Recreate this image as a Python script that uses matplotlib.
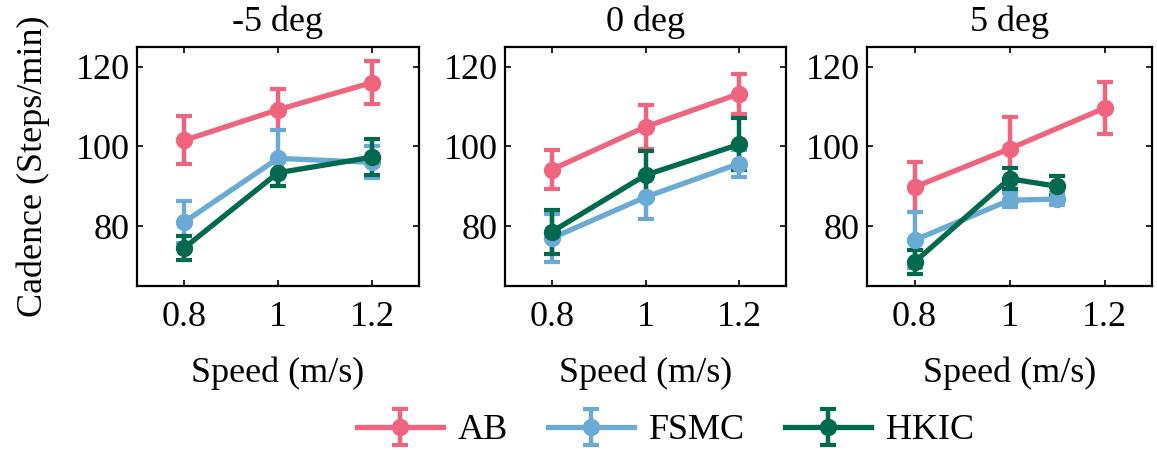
import matplotlib
matplotlib.use("Agg")
import matplotlib.pyplot as plt

plt.rcParams['font.family'] = ['Liberation Serif', 'DejaVu Serif']
plt.rcParams['mathtext.fontset'] = 'stix'

titles = ["-5 deg", "0 deg", "5 deg"]
series = ["AB", "FSMC", "HKIC"]
colors = {"AB": "#EF6580", "FSMC": "#6AAAD5", "HKIC": "#006A4F"}

# x speeds per panel / series
x_full = [0.8, 1.0, 1.2]
x_short = [0.8, 1.0, 1.1]

# -5 deg
m5_AB = [101.5, 109.2, 116.0]
m5_AB_err = [6.0, 5.2, 5.3]
m5_FSMC = [81.0, 97.0, 96.0]
m5_FSMC_err = [5.3, 7.0, 4.0]
m5_HKIC = [74.5, 93.4, 97.3]
m5_HKIC_err = [3.0, 3.4, 4.5]

# 0 deg
z_AB = [94.2, 104.9, 113.2]
z_AB_err = [5.0, 5.5, 5.0]
z_FSMC = [77.0, 87.3, 95.7]
z_FSMC_err = [6.0, 5.5, 3.3]
z_HKIC = [78.6, 92.8, 100.5]
z_HKIC_err = [5.5, 6.0, 6.5]

# 5 deg
p5_AB = [89.8, 99.4, 109.6]
p5_AB_err = [6.2, 8.0, 6.6]
p5_FSMC = [76.5, 86.5, 86.8]
p5_FSMC_err = [7.0, 1.8, 1.5]
p5_HKIC = [71.0, 91.9, 90.0]
p5_HKIC_err = [3.0, 2.7, 2.5]

panels = [
    {"AB": (x_full, m5_AB, m5_AB_err), "FSMC": (x_full, m5_FSMC, m5_FSMC_err), "HKIC": (x_full, m5_HKIC, m5_HKIC_err)},
    {"AB": (x_full, z_AB, z_AB_err), "FSMC": (x_full, z_FSMC, z_FSMC_err), "HKIC": (x_full, z_HKIC, z_HKIC_err)},
    {"AB": (x_full, p5_AB, p5_AB_err), "FSMC": (x_short, p5_FSMC, p5_FSMC_err), "HKIC": (x_short, p5_HKIC, p5_HKIC_err)},
]

xticks = [0.8, 1.0, 1.2]
xticklabels = ["0.8", "1", "1.2"]
yticks = [80, 100, 120]

FS = 26

fig = plt.figure(figsize=(11.57, 4.5), dpi=100)
W, H = 1157, 450
lefts = [137, 505, 867]
widths = [282, 281, 285]
top_px, bot_px = 46.7, 286

handles = []
for i, (pan, title) in enumerate(zip(panels, titles)):
    ax = fig.add_axes([lefts[i] / W, 1 - bot_px / H, widths[i] / W, (bot_px - top_px) / H])
    for s in series:
        xs, ys, es = pan[s]
        h = ax.errorbar(xs, ys, yerr=es, color=colors[s], lw=3.8, marker='o', ms=11.5,
                        capsize=6, capthick=3, elinewidth=3.2, label=s)
        if i == 0:
            handles.append(h)
    ax.set_xlim(0.7, 1.3)
    ax.set_ylim(65, 125)
    ax.set_xticks(xticks)
    ax.set_xticklabels(xticklabels)
    ax.set_yticks(yticks)
    ax.tick_params(direction='in', top=True, right=True, labelsize=FS, length=4, width=1.2)
    ax.tick_params(axis='x', pad=11)
    ax.tick_params(axis='y', pad=5)
    for sp in ax.spines.values():
        sp.set_linewidth(1.6)
    ax.set_title(title, fontsize=FS, pad=11)
    ax.set_xlabel("Speed (m/s)", fontsize=FS, labelpad=16)
    if i == 0:
        ax.set_ylabel("Cadence (Steps/min)", fontsize=FS, labelpad=19)

fig.legend(handles, series, loc='center', bbox_to_anchor=(0.575, 0.043), ncol=3,
           frameon=False, fontsize=FS, handlelength=2.4, columnspacing=1.1, handletextpad=0.4)

fig.savefig("out.png", dpi=100)
